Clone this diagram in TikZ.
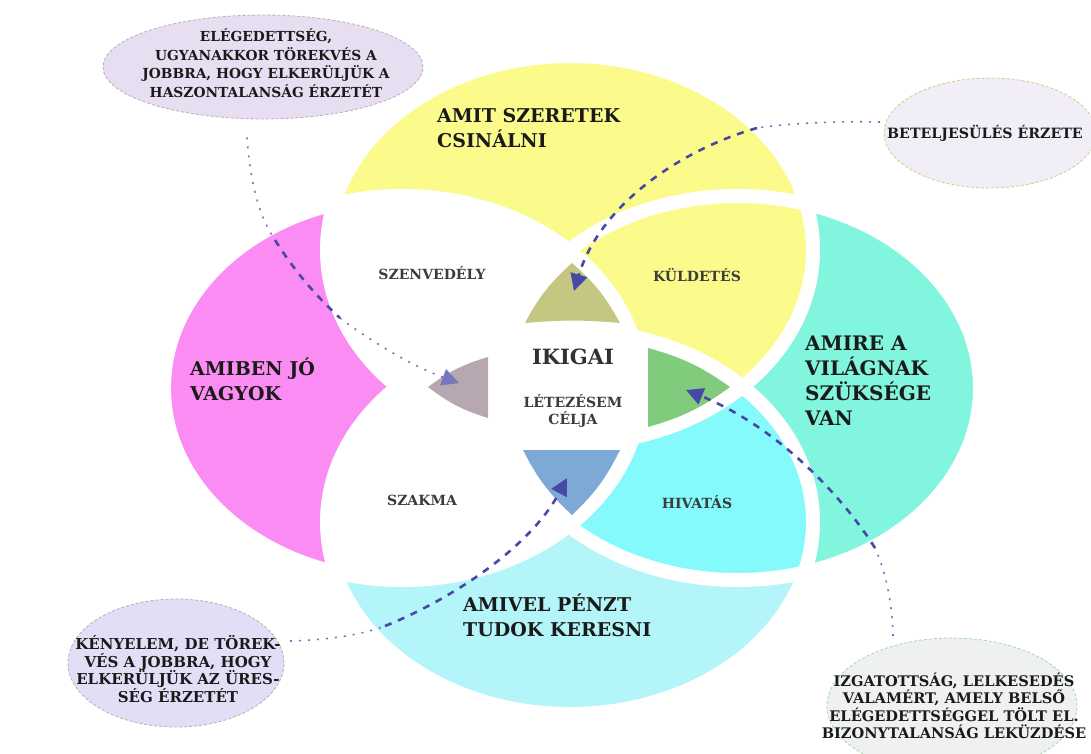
\documentclass[tikz,border=0pt]{standalone}
\usepackage{fontspec}
\setmainfont{DejaVu Serif}
\usetikzlibrary{shapes.geometric,arrows.meta}
\definecolor{yel}{HTML}{FBFB8C}
\definecolor{pnk}{HTML}{FB8CF3}
\definecolor{tea}{HTML}{82F5DE}
\definecolor{cya}{HTML}{84FAFC}
\definecolor{lcy}{HTML}{B4F5FA}
\definecolor{olv}{HTML}{C4C782}
\definecolor{mauv}{HTML}{B6A7B1}
\definecolor{grn}{HTML}{80CC7C}
\definecolor{blu}{HTML}{7DA9D7}
\definecolor{arr}{HTML}{4848A8}
\definecolor{txt}{HTML}{1A1A1A}
\definecolor{lavA}{HTML}{E8DEF2}
\definecolor{lavB}{HTML}{F1EEF8}
\definecolor{lavC}{HTML}{E2DEF6}
\definecolor{grayD}{HTML}{EEF0F2}
\begin{document}
\begin{tikzpicture}[x=1pt,y=-1pt,
  biglab/.style={font=\bfseries\fontsize{19}{25}\selectfont, align=left, text=txt, inner sep=0pt},
  smalllab/.style={font=\bfseries\fontsize{14}{17}\selectfont, align=center, text=txt!85, inner sep=0pt},
  calltext/.style={font=\bfseries\fontsize{15}{17.5}\selectfont, align=center, text=txt, inner sep=0pt},
  bubble/.style={ellipse, inner sep=0pt, line width=0.8pt, dash pattern=on 3pt off 2pt},
  dashcon/.style={draw=arr, line width=2.6pt, dash pattern=on 7pt off 7pt},
  dotcon/.style={draw=arr!75, line width=1.6pt, dash pattern=on 2pt off 7pt},
  tip/.style={-{Triangle[length=17pt,width=17pt]}}
]
\useasboundingbox (0,0) rectangle (1091,753);
\fill[white] (0,0) rectangle (1091,753);
\def\CT{(570,250) ellipse [x radius=243pt, y radius=194pt]}
\def\CB{(570,522) ellipse [x radius=243pt, y radius=192pt]}
\def\CL{(402.5,388) ellipse [x radius=238.5pt, y radius=192pt]}
\def\CR{(737.5,388) ellipse [x radius=242.5pt, y radius=192pt]}
% single circles
\fill[yel] \CT;
\fill[lcy] \CB;
\fill[pnk] \CL;
\fill[tea] \CR;
% pairwise
\begin{scope}\clip \CT; \fill[white] \CL; \fill[yel] \CR; \end{scope}
\begin{scope}\clip \CB; \fill[white] \CL; \fill[cya] \CR; \end{scope}
% three or more: white
\begin{scope}\clip \CL; \clip \CR; \fill[white] \CT; \fill[white] \CB; \end{scope}
\begin{scope}\clip \CT; \clip \CB; \fill[white] \CL; \fill[white] \CR; \end{scope}
% white gaps
\draw[white, line width=14pt] \CT \CB \CL \CR;
% the four triangles
\fill[olv] (572,263) to[bend right=10] (525,323) to[bend left=5] (620,323) to[bend right=10] cycle;
\fill[mauv] (428,387) to[bend left=10] (488,357) -- (488,418) to[bend left=10] cycle;
\fill[grn] (648,348) to[bend left=10] (730,387) to[bend left=10] (648,427) -- cycle;
\fill[blu] (523,450) -- (620,450) to[bend left=10] (572,515) to[bend left=10] cycle;
\coordinate (tipO) at (574,291);
\coordinate (tipM) at (459,383);
\coordinate (tipG) at (686,390);
\coordinate (tipB) at (567,478);
% main labels
\node[biglab, anchor=west] (lTop) at (437,128) {AMIT SZERETEK\\CSINÁLNI};
\node[biglab, anchor=west] (lLeft) at (190,379) {AMIBEN JÓ\\VAGYOK};
\node[biglab, anchor=west, font=\bfseries\fontsize{20}{25}\selectfont] (lRight) at (805,381) {AMIRE A\\VILÁGNAK\\SZÜKSÉGE\\VAN};
\node[biglab, anchor=west] (lBot) at (463,615) {AMIVEL PÉNZT\\TUDOK KERESNI};
\node[smalllab] (sz) at (432,273) {SZENVEDÉLY};
\node[smalllab] (ku) at (697,275) {KÜLDETÉS};
\node[smalllab] (sa) at (422,500) {SZAKMA};
\node[smalllab] (hi) at (697,502) {HIVATÁS};
\node[biglab, text=txt!90, font=\bfseries\fontsize{21}{24}\selectfont] (ik) at (573,357) {IKIGAI};
\node[smalllab] (lc) at (573,411) {LÉTEZÉSEM\\CÉLJA};
% callouts
\node[bubble, fill=lavA, draw=gray!60, minimum width=320pt, minimum height=104pt] (cA) at (263,67) {};
\node[calltext, font=\bfseries\fontsize{13.8}{18.5}\selectfont] (tA) at (266,63) {ELÉGEDETTSÉG,\\UGYANAKKOR TÖREKVÉS A\\JOBBRA, HOGY ELKERÜLJÜK A\\HASZONTALANSÁG ÉRZETÉT};
\node[bubble, fill=lavB, draw=olive!40, minimum width=212pt, minimum height=110pt] (cB) at (990,133) {};
\node[calltext, anchor=west, font=\bfseries\fontsize{14.2}{17}\selectfont] (tB) at (887,133) {BETELJESÜLÉS ÉRZETE};
\node[bubble, fill=lavC, draw=gray!60, minimum width=216pt, minimum height=128pt] (cC) at (176,663) {};
\node[calltext] (tC) at (178,669) {KÉNYELEM, DE TÖREK-\\VÉS A JOBBRA, HOGY\\ELKERÜLJÜK AZ ÜRES-\\SÉG ÉRZETÉT};
\node[bubble, fill=grayD, draw=green!40!gray!50, minimum width=250pt, minimum height=136pt] (cD) at (952,706) {};
\node[calltext, font=\bfseries\fontsize{14.6}{17.5}\selectfont] (tD) at (954,706) {IZGATOTTSÁG, LELKESEDÉS\\VALAMÉRT, AMELY BELSŐ\\ELÉGEDETTSÉGGEL TÖLT EL.\\BIZONYTALANSÁG LEKÜZDÉSE};
% connectors
\coordinate (a1) at (275,240);
\coordinate (a2) at (340,318);
\path (cA.south) ++(-16,18) coordinate (a0);
\draw[dotcon] (a0) .. controls (250,180) and (258,215) .. (a1);
\draw[dashcon] (a1) .. controls (295,272) and (318,298) .. (a2);
\draw[dotcon, tip] (a2) .. controls (372,342) and (412,366) .. (tipM);
\coordinate (b0) at (880,122);
\coordinate (b1) at (757,128);
\draw[dotcon] (b0) .. controls (840,121) and (790,123) .. (b1);
\draw[dashcon, tip] (b1) .. controls (680,150) and (600,205) .. (tipO);
\coordinate (d0) at (893,636);
\coordinate (d1) at (875,548);
\draw[dotcon] (d0) .. controls (892,600) and (885,570) .. (d1);
\draw[dashcon, tip] (d1) .. controls (845,500) and (780,428) .. (tipG);
\coordinate (c0) at (290,641);
\coordinate (c1) at (385,626);
\draw[dotcon] (c0) .. controls (320,640) and (355,637) .. (c1);
\draw[dashcon, tip] (c1) .. controls (450,600) and (530,548) .. (tipB);
\end{tikzpicture}
\end{document}
